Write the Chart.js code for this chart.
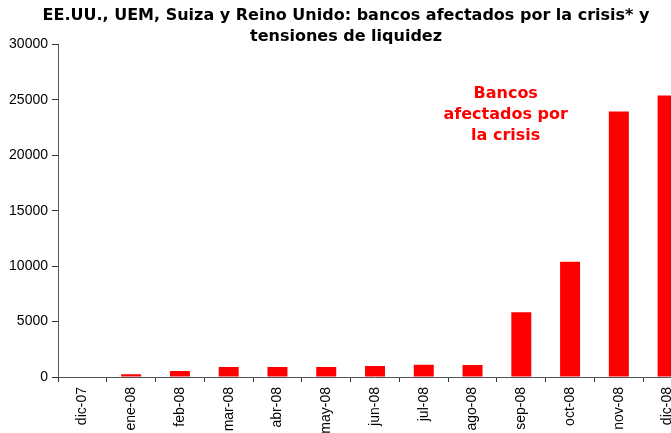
<!DOCTYPE html>
<html>
<head>
<meta charset="utf-8">
<script src="https://cdn.jsdelivr.net/npm/chart.js@4"></script>
<style>
  html, body { margin: 0; padding: 0; background: #fff; overflow: hidden; }
  #wrap { width: 700px; height: 433px; }
</style>
</head>
<body>
<div id="wrap"><canvas id="chart"></canvas></div>
<script>
// Data
const months = ['dic-07', 'ene-08', 'feb-08', 'mar-08', 'abr-08', 'may-08', 'jun-08',
                'jul-08', 'ago-08', 'sep-08', 'oct-08', 'nov-08', 'dic-08'];
const bancosAfectados = [0, 250, 550, 900, 900, 900, 1000, 1100, 1080, 5850, 10400, 23950, 25400];
const yTicks = [0, 5000, 10000, 15000, 20000, 25000, 30000];
const noteLines = ['Bancos', 'afectados por', 'la crisis'];

// Red note inside the plot
const notePlugin = {
    id: 'note',
    afterDraw(chart) {
        const ctx = chart.ctx;
        const x = chart.scales.x.getPixelForValue(8.68);
        const y = chart.scales.y.getPixelForValue(25000);
        ctx.save();
        ctx.fillStyle = '#ff0000';
        ctx.font = 'bold 16px "DejaVu Sans"';
        ctx.textAlign = 'center';
        ctx.textBaseline = 'middle';
        noteLines.forEach((line, i) => {
            ctx.fillText(line, x, y - 6 + i * 21);
        });
        ctx.restore();
    }
};

new Chart(document.getElementById('chart'), {
    type: 'bar',
    data: {
        labels: months,
        datasets: [{
            label: 'Bancos afectados por la crisis',
            data: bancosAfectados,
            backgroundColor: '#ff0000',
            categoryPercentage: 1,
            barPercentage: 0.41
        }]
    },
    options: {
        responsive: true,
        maintainAspectRatio: false,
        animation: false,
        layout: { padding: { left: 0, right: 8, top: 0, bottom: 0 } },
        plugins: {
            legend: { display: false },
            tooltip: { enabled: false },
            title: {
                display: true,
                text: ['EE.UU., UEM, Suiza y Reino Unido: bancos afectados por la crisis* y',
                       'tensiones de liquidez'],
                color: '#000',
                font: { family: 'DejaVu Sans', size: 16, weight: 'bold', lineHeight: 1.33 },
                padding: { top: 5, bottom: -3 }
            }
        },
        scales: {
            x: {
                grid: { display: true, drawOnChartArea: false, offset: true, tickLength: 5, color: '#333' },
                border: { color: '#555', width: 1 },
                ticks: {
                    color: '#000',
                    font: { family: 'Liberation Sans', size: 14 },
                    padding: 5,
                    minRotation: 90,
                    maxRotation: 90,
                    autoSkip: false
                },
                afterFit(scale) { scale.height = 56; }
            },
            y: {
                min: 0,
                max: 30000,
                afterBuildTicks(scale) { scale.ticks = yTicks.map(v => ({ value: v })); },
                grid: { display: true, drawOnChartArea: false, tickLength: 6, color: '#333' },
                border: { color: '#555', width: 1 },
                ticks: {
                    color: '#000',
                    font: { family: 'Liberation Sans', size: 14 },
                    padding: 4,
                    callback: v => String(v)
                },
                afterFit(scale) { scale.width = 58; }
            }
        }
    },
    plugins: [notePlugin]
});
</script>
</body>
</html>
